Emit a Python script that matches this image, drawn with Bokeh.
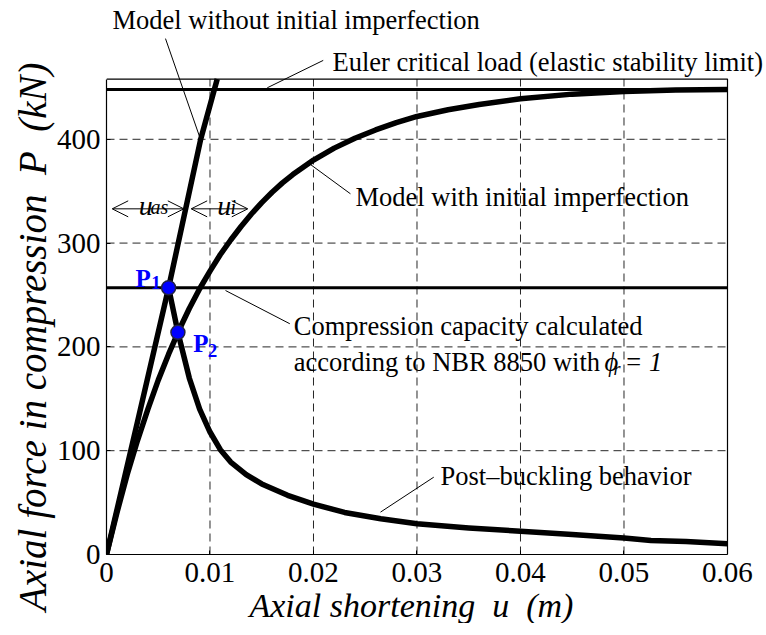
from bokeh.plotting import figure
from bokeh.models import Range1d, FixedTicker, Label, Arrow, OpenHead, Title
from bokeh.embed import file_html
from bokeh.resources import INLINE

# ---- data ----
perfect_u = [0.0, 0.0030, 0.0060, 0.0091, 0.0107]
perfect_P = [0.0, 128.0, 257.0, 400.0, 458.0]

imperf_u = [0.0, 0.001, 0.002, 0.003, 0.004, 0.005, 0.006, 0.007, 0.008, 0.009,
            0.010, 0.011, 0.012, 0.013, 0.014, 0.015, 0.016, 0.017, 0.018, 0.019,
            0.020, 0.022, 0.024, 0.026, 0.028, 0.030, 0.033, 0.036, 0.040, 0.045,
            0.050, 0.055, 0.060]
imperf_P = [0.0, 40.0, 77.0, 110.0, 140.0, 168.0, 193.0, 216.0, 237.0, 256.0,
            273.0, 289.0, 303.0, 316.0, 328.0, 339.0, 349.0, 358.0, 366.0, 373.0,
            380.0, 391.5, 401.0, 409.0, 416.0, 422.0, 428.5, 433.5, 439.0, 443.5,
            446.0, 447.5, 448.0]

post_u = [0.0060, 0.0069, 0.0075, 0.0080, 0.0090, 0.0100, 0.0110, 0.0120, 0.0135,
          0.0150, 0.0175, 0.0200, 0.0230, 0.0265, 0.0300, 0.0350, 0.0400, 0.0450,
          0.0500, 0.0526, 0.0560, 0.0600]
post_P = [257.0, 214.0, 190.0, 170.0, 140.0, 118.0, 101.0, 89.0, 77.0,
          68.0, 57.0, 48.5, 40.5, 34.4, 29.6, 25.5, 22.5, 19.2,
          16.0, 13.5, 12.5, 10.3]

euler_P = 448.0
capacity_P = 257.0
points_u = [0.0060, 0.0069]
points_P = [257.0, 214.0]

x_ticks = [0, 0.01, 0.02, 0.03, 0.04, 0.05, 0.06]
x_tick_labels = ["0", "0.01", "0.02", "0.03", "0.04", "0.05", "0.06"]
y_ticks = [0, 100, 200, 300, 400]
x_max = 0.06
y_max = 458.0

SERIF = "Liberation Serif"

# frame extended up/right so that the annotations outside the axes box stay visible
p = figure(frame_width=658, frame_height=554,
           x_range=Range1d(0, 0.063575), y_range=Range1d(0, 533.7),
           output_backend="svg", toolbar_location=None,
           min_border_left=106, min_border_right=0, min_border_top=0, min_border_bottom=0)

p.background_fill_color = "white"
p.border_fill_color = "white"
p.outline_line_color = None
p.grid.visible = False

for ax in (p.xaxis, p.yaxis):
    ax.axis_line_color = "black"
    ax.axis_line_width = 1.2
    ax.major_tick_line_color = "black"
    ax.major_tick_in = 4
    ax.major_tick_out = 0
    ax.minor_tick_line_color = None
    ax.major_label_text_font = SERIF
    ax.major_label_text_font_size = "29px"
    ax.major_label_text_color = "black"

p.xaxis.bounds = (0, x_max)
p.yaxis.bounds = (0, y_max)
p.xaxis.ticker = FixedTicker(ticks=x_ticks)
p.xaxis.major_label_overrides = {t: l for t, l in zip(x_ticks, x_tick_labels)}
p.yaxis.ticker = FixedTicker(ticks=y_ticks)
p.xaxis.major_label_standoff = 8
p.yaxis.major_label_standoff = 6

# axis titles (placed in the side panels so they can be aligned to the axes box)
p.add_layout(Title(text="Axial shortening \u00a0u\u00a0 (m)", align="left", offset=143,
                   text_font=SERIF, text_font_style="italic", text_font_size="34px",
                   text_color="black", standoff=0), "below")
p.add_layout(Title(text="Axial force in compression \u00a0P\u00a0 (kN)", align="right", offset=62,
                   text_font=SERIF, text_font_style="italic", text_font_size="39px",
                   text_color="black", standoff=0), "left")

# dashed grid at the tick positions inside the axes box
p.segment(x0=x_ticks[1:-1], y0=[0] * 5, x1=x_ticks[1:-1], y1=[y_max] * 5,
          line_color="black", line_width=1, line_dash="8 5", line_alpha=0.85)
p.segment(x0=[0] * 4, y0=y_ticks[1:], x1=[x_max] * 4, y1=y_ticks[1:],
          line_color="black", line_width=1, line_dash="8 5", line_alpha=0.85)

# axes box (top and right sides)
p.line([0, x_max, x_max], [y_max, y_max, 0], line_color="black", line_width=1.2)

# horizontal limits
p.line([0, x_max], [euler_P, euler_P], line_color="black", line_width=3)
p.line([0, x_max], [capacity_P, capacity_P], line_color="black", line_width=3)

# curves
p.line(perfect_u, perfect_P, line_color="black", line_width=5.5, line_join="round")
p.line(imperf_u, imperf_P, line_color="black", line_width=5.5, line_join="round")
p.line(post_u, post_P, line_color="black", line_width=5.5, line_join="round")

p.scatter(points_u, points_P, size=14, fill_color="#0000ff", line_color="#222244", line_width=1.5)


def txt(x, y, s, size="26.5px", style="normal", color="black", baseline="middle", align="left"):
    p.add_layout(Label(x=x, y=y, text=s, text_font=SERIF, text_font_size=size,
                       text_font_style=style, text_color=color,
                       text_baseline=baseline, text_align=align))


def leader(x0, y0, x1, y1):
    p.add_layout(Arrow(x_start=x0, y_start=y0, x_end=x1, y_end=y1, start=None, end=None,
                       line_color="black", line_width=1))


# annotations
txt(0.00058, 514.5, "Model without initial imperfection")
leader(0.0057, 497, 0.00901, 402)

txt(0.02184, 474, "Euler critical load (elastic stability limit)")
leader(0.02094, 476, 0.01553, 449.6)

txt(0.02406, 344, "Model with initial imperfection")
leader(0.02357, 347.5, 0.01971, 375.7)

txt(0.0181, 220.6, "Compression capacity calculated")
txt(0.0181, 185.3, "according to NBR 8850 with")
txt(0.04812, 185.3, "\u03d5", style="italic")
txt(0.04899, 178.5, "r", size="18px", style="italic")
txt(0.05005, 185.3, "= 1", style="italic")
leader(0.0115, 254.3, 0.01771, 222.3)

txt(0.03227, 76, "Post\u2013buckling behavior")
leader(0.03162, 74.5, 0.02647, 40.8)

# P1, P2 labels
txt(0.0028, 265.6, "P", size="25px", style="bold", color="#0000ff", baseline="alphabetic")
txt(0.00432, 262.3, "1", size="19px", style="bold", color="#0000ff", baseline="alphabetic")
txt(0.00838, 203.0, "P", size="25px", style="bold", color="#0000ff", baseline="alphabetic")
txt(0.00979, 196.5, "2", size="19px", style="bold", color="#0000ff", baseline="alphabetic")

# displacement arrows
p.add_layout(Arrow(x_start=0.00055, y_start=333, x_end=0.00747, y_end=333,
                   start=OpenHead(size=16, line_width=1), end=OpenHead(size=16, line_width=1),
                   line_width=1, line_color="black"))
p.add_layout(Arrow(x_start=0.00818, y_start=333, x_end=0.01365, y_end=333,
                   start=OpenHead(size=16, line_width=1), end=OpenHead(size=16, line_width=1),
                   line_width=1, line_color="black"))
txt(0.00312, 336.3, "u", size="28px", style="italic", baseline="alphabetic")
txt(0.00425, 334.6, "as", size="20px", style="italic", baseline="alphabetic")
txt(0.0107, 336.3, "u", size="28px", style="italic", baseline="alphabetic")
txt(0.01198, 334.6, "i", size="20px", style="italic", baseline="alphabetic")

open("out.html", "w").write(file_html(p, INLINE))
